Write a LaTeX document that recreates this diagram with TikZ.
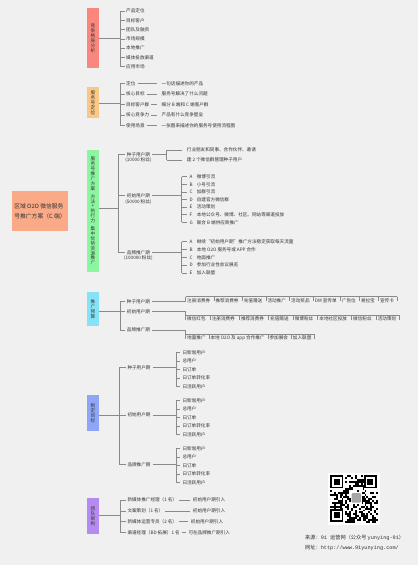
\documentclass[tikz,border=0pt]{standalone}
\usepackage{fontspec}
\setmainfont{Noto Sans CJK SC}
\newfontfamily\monofam{Liberation Mono}
\usetikzlibrary{calc,positioning}
\definecolor{bg}{HTML}{EFF0EF}
\definecolor{lnc}{HTML}{8A8A8A}
\definecolor{txt}{HTML}{333333}
\definecolor{cRed}{HTML}{FA877D}
\definecolor{cOrange}{HTML}{FBC784}
\definecolor{cGreen}{HTML}{8CF5A0}
\definecolor{cCyan}{HTML}{86E2F6}
\definecolor{cBlue}{HTML}{8DA6F6}
\definecolor{cPurple}{HTML}{B68BF1}
\definecolor{cRoot}{HTML}{FBAA88}
\begin{document}
\begin{tikzpicture}[x=1pt,y=-1pt,
  lbl/.style={font=\fontsize{4.6}{5.5}\selectfont, text=txt, inner sep=0pt, anchor=west},
  cat/.style={fill=#1, minimum width=12.6pt, inner sep=0pt, align=center, font=\fontsize{4.6}{4.9}\selectfont, text=txt},
  ln/.style={draw=lnc, line width=0.5pt},
  foot/.style={font=\fontsize{5.2}{6}\selectfont, text=txt, inner sep=0pt, anchor=west}
]
\fill[bg] (0,0) rectangle (418,565);
\useasboundingbox (0,0) rectangle (418,565);

% root
\node[fill=cRoot, minimum width=56pt, minimum height=40pt, align=left, font=\fontsize{5.8}{10}\selectfont, text=txt, inner sep=0pt] (root) at (40,211) {区域 O2O 微信服务\\号推广方案（C 端）};

% ---------- section 1
\node[cat=cRed, minimum height=60pt] (s1) at (92.8,38.3) {竞\\争\\格\\局\\分\\析};
\coordinate (s1sp) at (120,38.3);
\draw[ln] (s1.east) -- (s1sp);
\foreach \t [count=\i] in {产品定位,目标客户,团队及融资,市场规模,本地推广,媒体投放渠道,应用市场}
  \node[lbl] (a\i) at (126,{11+9.28*(\i-1)}) {\t};
\draw[ln] (a1.west -| s1sp) -- (a7.west -| s1sp);
\foreach \i in {1,...,7} \draw[ln] (a\i.west -| s1sp) -- ($(a\i.west)+(-1.5,0)$);

% ---------- section 2
\node[cat=cOrange, minimum height=31pt] (s2) at (92.8,102.8) {服\\务\\号\\定\\位};
\coordinate (s2sp) at (120,102.8);
\draw[ln] (s2.east) -- (s2sp);
\foreach \t/\d [count=\i] in {定位/一句话描述你的产品,核心目标/服务号解决了什么问题,目标客户群/细分 B 端和 C 端客户群,核心竞争力/产品有什么竞争壁垒,使用场景/一张图来描述你的服务号使用流程图}{
  \node[lbl] (b\i) at (126,{83.3+10.6*(\i-1)}) {\t};
  \node[lbl] (bd\i) at (161.5,{83.3+10.6*(\i-1)}) {\d};
  \draw[ln] ($(b\i.east)+(2,0)$) -- ($(bd\i.west)+(-4.5,0)$);
}
\draw[ln] (b1.west -| s2sp) -- (b5.west -| s2sp);
\foreach \i in {1,...,5} \draw[ln] (b\i.west -| s2sp) -- ($(b\i.west)+(-1.5,0)$);

% ---------- section 3
\node[cat=cGreen, minimum height=122.3pt] (s3) at (92.8,211.2) {服\\务\\号\\推\\广\\方\\案\\[3pt]方\\法\\+\\执\\行\\力\\[3pt]集\\中\\优\\势\\资\\源\\推\\广};
\coordinate (s3sp) at (118.3,208);
\draw[ln] (s3.east |- s3sp) -- (s3sp);
\node[lbl] (g1) at (126.7,154.3) {种子用户期};
\node[lbl, anchor=north] (g1s) at ($(g1.south)+(0,1.2)$) {(10000 粉丝)};
\node[lbl] (g2) at (126.7,195.7) {初始用户期};
\node[lbl, anchor=north] (g2s) at ($(g2.south)+(0,1.2)$) {(50000 粉丝)};
\node[lbl] (g3) at (126.7,252.3) {品牌推广期};
\node[lbl, anchor=north] (g3s) at ($(g3.south)+(0,1.2)$) {(100000 粉丝)};
\draw[ln] (g1.west -| s3sp) -- (g3.west -| s3sp);
\foreach \i in {1,2,3} \draw[ln] (g\i.west -| s3sp) -- ($(g\i.west)+(-1.5,0)$);
% seed children
\node[lbl] (ga1) at (186.7,150) {行业朋友和同事、合作伙伴、邀请};
\node[lbl] (ga2) at (186.7,160) {建 2 个微信群管理种子用户};
\coordinate (g1br) at (166.7,154.3);
\draw[ln] ($(g1.east)+(2,0)$) -- (g1br);
\draw[ln] (ga1.west -| g1br) -- (ga2.west -| g1br);
\foreach \i in {1,2} \draw[ln] (ga\i.west -| g1br) -- ($(ga\i.west)+(-4.5,0)$);
% initial children
\foreach \l/\t [count=\i] in {A/微博引流,B/小号引流,C/加群引流,D/自建官方微信群,E/活动策划,F/本地公众号、微博、社区、网站等渠道投放,G/联合 B 端供应商推广}
  \node[lbl] (gb\i) at (189.3,{176.7+7.6*(\i-1)}) {\makebox[7.4pt][l]{\l}\t};
\coordinate (g2br) at (181.7,195.7);
\draw[ln] ($(g2.east)+(2,0)$) -- (g2br);
\draw[ln] (gb1.west -| g2br) -- (gb7.west -| g2br);
\foreach \i in {1,...,7} \draw[ln] (gb\i.west -| g2br) -- ($(gb\i.west)+(-2,0)$);
% brand children
\foreach \l/\t [count=\i] in {A/继续“初始用户期”推广方法稳定获取每天流量,B/本地 O2O 服务号或 APP 合作,C/地面推广,D/参加行业性会议展览,E/加入联盟}
  \node[lbl] (gc\i) at (189.3,{241.7+7.8*(\i-1)}) {\makebox[7.4pt][l]{\l}\t};
\coordinate (g3br) at (181.7,252.3);
\draw[ln] ($(g3.east)+(2,0)$) -- (g3br);
\draw[ln] (gc1.west -| g3br) -- (gc5.west -| g3br);
\foreach \i in {1,...,5} \draw[ln] (gc\i.west -| g3br) -- ($(gc\i.west)+(-2,0)$);

% ---------- section 4
\node[cat=cCyan, minimum height=33.4pt] (s4) at (92.8,309) {推\\广\\预\\算};
\coordinate (s4sp) at (120,311.7);
\draw[ln] (s4.east |- s4sp) -- (s4sp);
\node[lbl] (p1) at (126.7,301.7) {种子用户期};
\node[lbl] (p2) at (126.7,311.7) {初始用户期};
\node[lbl] (p3) at (126.7,330) {品牌推广期};
\draw[ln] (p1.west -| s4sp) -- (p3.west -| s4sp);
\foreach \n in {p1,p2,p3} \draw[ln] (\n.west -| s4sp) -- ($(\n.west)+(-1.5,0)$);
% row 1
\coordinate (r1) at (185.5,296.5);
\node[lbl] (q1) at (187,300.3) {注册消费券};
\node[lbl,right=4.9pt of q1] (q2) {推荐消费券};
\node[lbl,right=4.9pt of q2] (q3) {充值赠送};
\node[lbl,right=4.9pt of q3] (q4) {活动推广};
\node[lbl,right=4.9pt of q4] (q5) {活动奖品};
\node[lbl,right=4.9pt of q5] (q6) {DM 宣传单};
\node[lbl,right=4.9pt of q6] (q7) {广告位};
\node[lbl,right=4.9pt of q7] (q8) {易拉宝};
\node[lbl,right=4.9pt of q8] (q9) {宣传卡};
\foreach \n in {q1,q2,q3,q4,q5,q6,q7,q8,q9}{
  \coordinate (tk) at ($(\n.west)+(-1.5,0)$);
  \draw[ln] (tk |- r1) -- ++(0,4.5);
}
\coordinate (q9e) at ($(q9.east)+(2.9,0)$);
\draw[ln] (q9e |- r1) -- ++(0,4.5);
\draw[ln] (r1) -- (q9e |- r1);
\draw[ln] ($(p1.east)+(2,0)$) -- (p1.east -| r1) -- (r1);
% row 2
\coordinate (r2) at (185.5,315.2);
\node[lbl] (w1) at (187,319) {微信红包};
\node[lbl,right=5.8pt of w1] (w2) {注册消费券};
\node[lbl,right=5.8pt of w2] (w3) {推荐消费券};
\node[lbl,right=5.8pt of w3] (w4) {充值赠送};
\node[lbl,right=5.8pt of w4] (w5) {微博粉丝};
\node[lbl,right=5.8pt of w5] (w6) {本地社区投放};
\node[lbl,right=5.8pt of w6] (w7) {微信粉丝};
\node[lbl,right=5.8pt of w7] (w8) {活动策划};
\foreach \n in {w1,w2,w3,w4,w5,w6,w7,w8}{
  \coordinate (tk) at ($(\n.west)+(-1.5,0)$);
  \draw[ln] (tk |- r2) -- ++(0,4.5);
}
\coordinate (w8e) at ($(w8.east)+(2.9,0)$);
\draw[ln] (w8e |- r2) -- ++(0,4.5);
\draw[ln] (r2) -- (w8e |- r2);
\draw[ln] ($(p2.east)+(2,0)$) -- (p2.east -| r2) -- (r2);
% row 3
\coordinate (r3) at (185.5,334);
\node[lbl] (v1) at (187,337.8) {地面推广};
\node[lbl,right=4.6pt of v1] (v2) {本地 O2O 及 app 合作推广};
\node[lbl,right=4.6pt of v2] (v3) {参加展会};
\node[lbl,right=4.6pt of v3] (v4) {加入联盟};
\foreach \n in {v1,v2,v3,v4}{
  \coordinate (tk) at ($(\n.west)+(-1.5,0)$);
  \draw[ln] (tk |- r3) -- ++(0,4.5);
}
\coordinate (v4e) at ($(v4.east)+(2.9,0)$);
\draw[ln] (v4e |- r3) -- ++(0,4.5);
\draw[ln] (r3) -- (v4e |- r3);
\draw[ln] ($(p3.east)+(2,0)$) -- (p3.east -| r3) -- (r3);

% ---------- section 5
\node[cat=cBlue, minimum height=36pt] (s5) at (92.8,413) {制\\定\\目\\标};
\coordinate (s5sp) at (119.3,415);
\draw[ln] (s5.east |- s5sp) -- (s5sp);
\node[lbl] (m1) at (127.3,367.7) {种子用户期};
\node[lbl] (m2) at (127.3,415) {初始用户期};
\node[lbl] (m3) at (127.3,464.3) {品牌推广期};
\draw[ln] (m1.west -| s5sp) -- (m3.west -| s5sp);
\foreach \n in {m1,m2,m3} \draw[ln] (\n.west -| s5sp) -- ($(\n.west)+(-1.5,0)$);
\foreach \k/\y in {1/352.3,2/400.3,3/448.5}{
  \foreach \t [count=\i] in {日新增用户,总用户,日订单,日订单转化率,日活跃用户}
    \node[lbl] (mm\k\i) at (182.3,{\y+8.5*(\i-1)}) {\t};
  \coordinate (mbr\k) at (176,0);
  \draw[ln] ($(m\k.east)+(2,0)$) -- (m\k.east -| mbr\k);
  \draw[ln] (mm\k1.west -| mbr\k) -- (mm\k5.west -| mbr\k);
  \foreach \i in {1,...,5} \draw[ln] (mm\k\i.west -| mbr\k) -- ($(mm\k\i.west)+(-2,0)$);
}

% ---------- section 6
\node[cat=cPurple, minimum height=35.7pt] (s6) at (92.8,516.2) {团\\队\\架\\构};
\coordinate (s6sp) at (120,515.7);
\draw[ln] (s6.east |- s6sp) -- (s6sp);
\foreach \t/\d/\x [count=\i] in {新媒体推广经理（1 名）/初始用户期引入/192.7,文案策划（1 名）/初始用户期引入/192.7,新媒体运营专员（2 名）/初始用户期引入/190.7,渠道经理（BD 拓展）1 名/可在品牌推广期引入/188.3}{
  \node[lbl] (t\i) at (127.3,{500+10.77*(\i-1)}) {\t};
  \node[lbl] (u\i) at (\x,{500+10.77*(\i-1)}) {\d};
  \draw[ln] ($(t\i.east)+(2,0)$) -- ($(u\i.west)+(-2.5,0)$);
}
\draw[ln] (t1.west -| s6sp) -- (t4.west -| s6sp);
\foreach \i in {1,...,4} \draw[ln] (t\i.west -| s6sp) -- ($(t\i.west)+(-1.5,0)$);

% ---------- QR code
\fill[white] (328,473) rectangle (380,525);
\pgfmathsetseed{7}
\foreach \i in {0,...,24}{
  \foreach \j in {0,...,24}{
    \pgfmathrandominteger{\r}{0}{1}
    \ifnum\r=1 \fill[black] ({330+\i*1.92},{475+\j*1.92}) rectangle ++(1.92,1.92);\fi
  }
}
\foreach \ox/\oy in {330/475,363.6/475,330/508.6}{
  \fill[white] (\ox,\oy) rectangle ++(15.4,15.4);
  \fill[black] (\ox,\oy) rectangle ++(13.44,13.44);
  \fill[white] ({\ox+1.92},{\oy+1.92}) rectangle ++(9.6,9.6);
  \fill[black] ({\ox+3.84},{\oy+3.84}) rectangle ++(5.76,5.76);
}
\fill[white] (350.5,492) rectangle (362,503.5);
\fill[gray!70, rounded corners=1pt] (351.5,493) rectangle (361,502.5);

% ---------- footer
\node[foot] (src) at (305,537.7) {来源：{\monofam 91 }运营网（公众号 {\monofam yunying-91}）};
\node[foot] (web) at (305,548.3) {网址：{\monofam http://www.91yunying.com/}};
\end{tikzpicture}
\end{document}
